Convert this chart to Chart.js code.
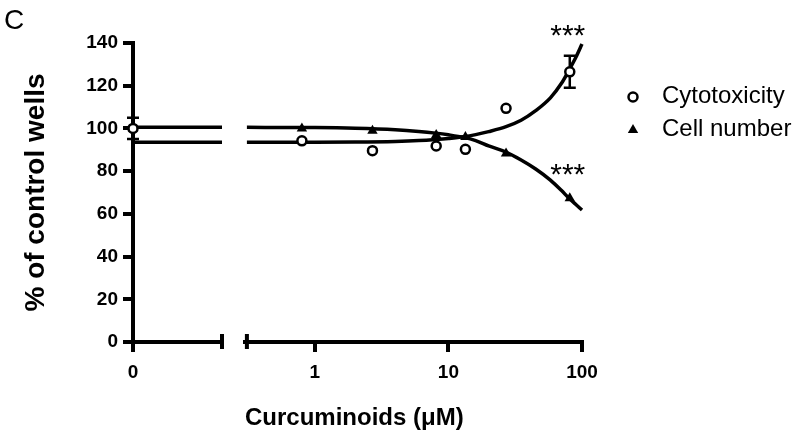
<!DOCTYPE html>
<html>
<head>
<meta charset="utf-8">
<script src="https://cdn.jsdelivr.net/npm/chart.js@4/dist/chart.umd.min.js"></script>
<style>
html,body{margin:0;padding:0;background:#fff;}
#wrap{width:800px;height:440px;position:relative;}
</style>
</head>
<body>
<div id="wrap"><canvas id="c" width="800" height="440"></canvas></div>
<script>
// ---------- data ----------
const seriesNames = ['Cytotoxicity', 'Cell number'];
const concentrations = [0.8, 2.7, 8.1, 13.4, 27, 81];          // µM (log segment)
const cytotoxicity   = [94.2, 89.6, 91.8, 90.2, 109.4, 126.5];
const cellNumber     = [100.0, 98.9, 96.9, 96.0, 88.3, 67.3];
const controlCytotoxicity = 100.0;                              // at 0 µM
const controlCellNumber   = 100.0;
const controlCytoError    = [95, 105];
const errorConc      = [81];
const cytoErrorLow   = [119];
const cytoErrorHigh  = [134];
// fitted curves
const fitConc  = [0.31, 1, 2, 4, 6, 8, 10, 13, 16, 20, 27, 35, 45, 58, 70, 80, 90, 100];
const cytoFit  = [93.5, 93.5, 93.6, 93.9, 94.3, 94.8, 95.3, 96.1, 97.1, 98.5, 100.8, 103.8, 108.3, 114.3, 121.0, 127.3, 133.3, 139.5];
const cellFit  = [100.5, 100.4, 100.1, 99.4, 98.6, 97.8, 97.0, 95.8, 94.3, 91.8, 88.9, 85.2, 81.0, 75.8, 71.0, 67.3, 64.4, 61.8];
const cytoFitAtZero = 93.5;
const cellFitAtZero = 100.5;
// axes
const zeroAxisRange = [0, 1];
const logAxisRange  = [0.31, 100];
const zeroTickValues = [0];
const xTickValues   = [1, 10, 100];
const yTickValues   = [0, 20, 40, 60, 80, 100, 120, 140];
// significance marks
const sigConc  = [81, 81];
const sigLevel = [147, 82];
const sigText  = ['***', '***'];

// ---------- chart ----------
const FONT = "'Liberation Sans', Arial, Helvetica, sans-serif";
Chart.defaults.font.family = FONT;
Chart.defaults.color = '#000';

const pts = (xs, ys) => xs.map((x, i) => ({x: x, y: ys[i]}));
const circleStyle = {pointStyle: 'circle', pointRadius: 4.5, pointHoverRadius: 4.5, pointBorderWidth: 2.5,
  pointBackgroundColor: '#fff', pointBorderColor: '#000', showLine: false, clip: false, order: 0};
const triangleStyle = {pointStyle: 'triangle', pointRadius: 6, pointHoverRadius: 6, pointBorderWidth: 0,
  pointBackgroundColor: '#000', pointBorderColor: '#000', showLine: false, clip: false, order: 0};
const fitStyle = {showLine: true, pointRadius: 0, pointHoverRadius: 0, borderColor: '#000', borderWidth: 3.5,
  cubicInterpolationMode: 'monotone', fill: false, clip: false, order: 1};

const tickFont = {size: 19, weight: 'bold'};
const axisGrid = {display: true, drawOnChartArea: false, drawTicks: true, tickLength: 10, lineWidth: 4, color: '#000'};
const axisBorder = {display: true, width: 4, color: '#000'};

const decorations = {
  id: 'decorations',
  beforeDatasetsDraw(chart) {
    const {ctx, scales: {x0, x1, y}} = chart;
    ctx.save();
    ctx.strokeStyle = '#000';
    ctx.lineWidth = 2.5;
    const bar = (px, lo, hi) => {
      const yl = y.getPixelForValue(lo), yh = y.getPixelForValue(hi);
      ctx.beginPath();
      ctx.moveTo(px, yl); ctx.lineTo(px, yh);
      ctx.moveTo(px - 6, yl); ctx.lineTo(px + 6, yl);
      ctx.moveTo(px - 6, yh); ctx.lineTo(px + 6, yh);
      ctx.stroke();
    };
    bar(x0.getPixelForValue(0), controlCytoError[0], controlCytoError[1]);
    errorConc.forEach((c, i) => bar(x1.getPixelForValue(c), cytoErrorLow[i], cytoErrorHigh[i]));
    ctx.restore();
  },
  afterDraw(chart) {
    const {ctx, scales: {x0, x1, y}} = chart;
    const H = Chart.helpers;
    ctx.save();
    // axis break caps
    const y0 = y.getPixelForValue(0);
    ctx.strokeStyle = '#000';
    ctx.lineWidth = 4;
    ctx.beginPath();
    const a = x0.getPixelForValue(zeroAxisRange[1]);
    const b = x1.getPixelForValue(logAxisRange[0]);
    ctx.moveTo(a, y0 - 8); ctx.lineTo(a, y0 + 7);
    ctx.moveTo(b, y0 - 8); ctx.lineTo(b, y0 + 7);
    ctx.stroke();
    // significance stars
    ctx.fillStyle = '#000';
    ctx.font = '30px ' + FONT;
    ctx.textAlign = 'center';
    ctx.textBaseline = 'alphabetic';
    sigConc.forEach((c, i) => {
      ctx.fillText(sigText[i], x1.getPixelForValue(c) - 2, y.getPixelForValue(sigLevel[i]) + 17);
    });
    // legend
    const rows = [
      {style: 'circle', radius: 4.5, bw: 2.5, fill: '#fff', y: 97},
      {style: 'triangle', radius: 6, bw: 0, fill: '#000', y: 130}
    ];
    ctx.font = '24px ' + FONT;
    ctx.textAlign = 'left';
    ctx.textBaseline = 'middle';
    rows.forEach((r, i) => {
      ctx.fillStyle = r.fill;
      ctx.strokeStyle = '#000';
      ctx.lineWidth = r.bw;
      H.drawPoint(ctx, {pointStyle: r.style, radius: r.radius, borderWidth: r.bw, rotation: 0}, 633, r.y);
      ctx.fillStyle = '#000';
      ctx.fillText(seriesNames[i], 662, r.y - 1);
    });
    ctx.restore();
  }
};

new Chart(document.getElementById('c'), {
  type: 'scatter',
  data: {
    datasets: [
      Object.assign({label: seriesNames[0], xAxisID: 'x0', data: [{x: 0, y: controlCytotoxicity}]}, circleStyle),
      Object.assign({label: seriesNames[1], xAxisID: 'x0', data: [{x: 0, y: controlCellNumber}]}, triangleStyle),
      Object.assign({label: seriesNames[0], xAxisID: 'x1', data: pts(concentrations, cytotoxicity)}, circleStyle),
      Object.assign({label: seriesNames[1], xAxisID: 'x1', data: pts(concentrations, cellNumber)}, triangleStyle),
      Object.assign({label: seriesNames[0] + ' fit', xAxisID: 'x0', data: zeroAxisRange.map(x => ({x: x, y: cytoFitAtZero}))}, fitStyle),
      Object.assign({label: seriesNames[1] + ' fit', xAxisID: 'x0', data: zeroAxisRange.map(x => ({x: x, y: cellFitAtZero}))}, fitStyle),
      Object.assign({label: seriesNames[0] + ' fit', xAxisID: 'x1', data: pts(fitConc, cytoFit)}, fitStyle),
      Object.assign({label: seriesNames[1] + ' fit', xAxisID: 'x1', data: pts(fitConc, cellFit)}, fitStyle)
    ]
  },
  options: {
    responsive: false,
    animation: false,
    events: [],
    layout: {padding: {left: 4, right: 218, top: 0, bottom: 0}},
    plugins: {
      legend: {display: false},
      tooltip: {enabled: false},
      title: {display: true, text: 'C', align: 'start', color: '#000',
              font: {size: 28, weight: 'normal'}, padding: {top: 4, bottom: 5.4}}
    },
    scales: {
      y: {
        type: 'linear', position: 'left', min: 0, max: 140,
        afterBuildTicks: s => { s.ticks = yTickValues.map(v => ({value: v})); },
        ticks: {font: tickFont, padding: 5, color: '#000'},
        grid: axisGrid, border: axisBorder,
        title: {display: true, text: '% of control wells', color: '#000',
                font: {size: 28, weight: 'bold'}, padding: {top: 15, bottom: 0}},
        afterFit: s => { s.width = 129; }
      },
      x0: {
        type: 'linear', position: 'bottom', stack: 'x', stackWeight: 89,
        min: zeroAxisRange[0], max: zeroAxisRange[1],
        afterBuildTicks: s => { s.ticks = zeroTickValues.map(v => ({value: v})); },
        ticks: {font: tickFont, padding: 9, color: '#000', maxRotation: 0, autoSkip: false, callback: v => String(v)},
        grid: axisGrid, border: axisBorder,
        afterFit: s => { s.height = 98; }
      },
      xgap: {
        type: 'linear', position: 'bottom', stack: 'x', stackWeight: 23,
        display: false, min: 0, max: 1,
        afterFit: s => { s.height = 98; }
      },
      x1: {
        type: 'logarithmic', position: 'bottom', stack: 'x', stackWeight: 337,
        min: logAxisRange[0], max: logAxisRange[1],
        afterBuildTicks: s => { s.ticks = xTickValues.map(v => ({value: v})); },
        ticks: {font: tickFont, padding: 9, color: '#000', maxRotation: 0, autoSkip: false, callback: v => String(v)},
        grid: axisGrid, border: axisBorder,
        title: {display: true, text: 'Curcuminoids (μM)', align: 'start', color: '#000',
                font: {size: 24, weight: 'bold'}, padding: {top: 0, bottom: 7}},
        afterFit: s => { s.height = 98; }
      }
    }
  },
  plugins: [decorations]
});
</script>
</body>
</html>
